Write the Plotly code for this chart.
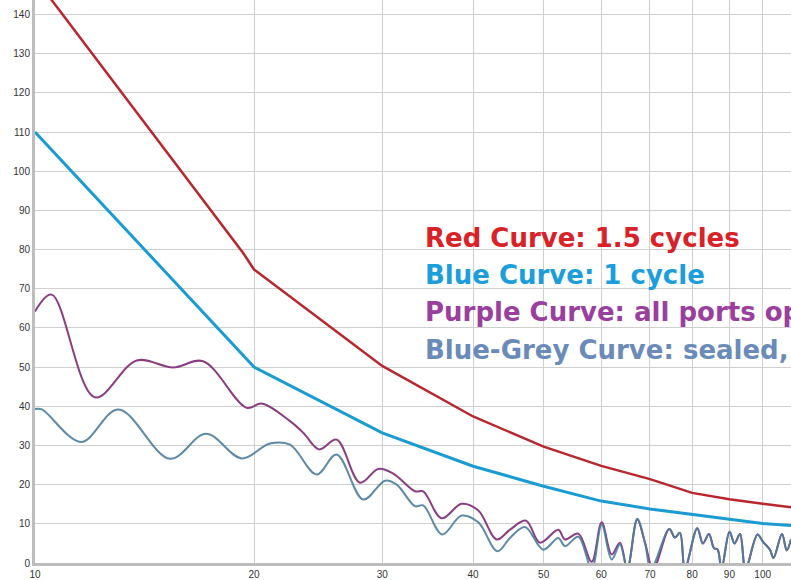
import plotly.graph_objects as go

# ---- data ----
red_f = [10, 19.31, 20, 30, 40, 50, 60, 70, 80, 90, 100, 109.4]
red_v = [149.3, 79.2, 74.9, 50.3, 37.4, 29.7, 24.8, 21.4, 17.9, 16.3, 15.1, 14.2]

blue_f = [10, 20, 30, 40, 50, 60, 70, 80, 90, 100, 109.4]
blue_v = [110, 50, 33.2, 24.7, 19.6, 15.8, 13.8, 12.4, 11.3, 10.1, 9.6]

purple_f = [10.00, 10.54, 12.09, 13.80, 15.48, 17.02, 19.54, 20.49, 22.41, 23.38,
            24.57, 25.97, 27.97, 29.63, 31.07, 33.28, 34.16, 36.21, 38.57, 40.66,
            43.10, 44.95, 47.28, 49.42, 52.37, 53.49, 55.79, 58.21, 60.08, 62.02,
            63.66, 65.15, 67.24, 68.90, 70.73, 74.40, 75.75, 76.96, 78.18, 81.29,
            82.77, 84.36, 85.71, 86.72, 87.77, 90.03, 91.47, 93.07, 94.71, 98.37,
            100.09, 102.33, 103.48, 106.30, 107.89, 109.36]
purple_v = [64.2, 68.5, 42.3, 51.7, 49.9, 51.5, 39.6, 40.7, 36.2, 33.2,
            29.0, 31.5, 20.5, 24.0, 22.8, 18.3, 18.3, 11.4, 15.1, 13.4,
            6.0, 8.5, 10.8, 5.2, 8.5, 6.0, 7.5, 0.3, 10.4, 2.2,
            5.2, -1.5, 11.1, 5.2, -1.5, 8.7, 6.5, 7.7, -1.5, 8.9,
            5.0, 7.4, 3.8, 3.4, -1.5, 8.0, 5.0, 7.4, -1.5, 7.3,
            5.4, 3.4, 1.3, 7.4, 3.2, 6.0]

grey_f = [10.00, 10.22, 11.57, 13.02, 15.33, 17.18, 19.23, 21.03, 22.41, 24.38,
          25.97, 28.26, 30.27, 31.41, 33.28, 34.16, 36.28, 38.57, 40.66, 43.19,
          44.95, 47.13, 49.94, 52.37, 53.49, 55.79, 58.21, 60.08, 62.02, 63.66,
          65.15, 67.24, 68.90, 70.23, 74.40, 75.75, 76.96, 78.18, 81.29, 82.77,
          84.36, 85.71, 86.72, 87.77, 90.03, 91.47, 93.07, 94.71, 98.37, 100.09,
          102.33, 103.48, 106.30, 107.89, 109.36]
grey_v = [39.3, 39.2, 30.9, 39.2, 26.6, 33.0, 26.7, 30.5, 30.2, 22.6,
          27.7, 16.2, 21.0, 20.0, 14.5, 14.7, 7.3, 12.1, 10.4, 3.0,
          6.4, 9.2, 3.4, 6.4, 4.3, 6.7, -1.5, 9.8, 0.9, 4.7,
          -1.5, 11.3, 5.2, -1.5, 8.7, 6.5, 7.7, -1.5, 8.9, 5.0,
          7.4, 3.8, 3.4, -1.5, 8.0, 5.0, 7.4, -1.5, 7.3, 5.4,
          3.4, 1.3, 7.4, 3.2, 6.0]

x_ticks = [10, 20, 30, 40, 50, 60, 70, 80, 90, 100]
y_ticks = list(range(0, 150, 10))

labels = ["Red Curve: 1.5 cycles", "Blue Curve: 1 cycle",
          "Purple Curve: all ports open", "Blue-Grey Curve: sealed,"]
label_colors = ["#d92128", "#1c9edb", "#9a3f9e", "#6a8bb9"]

fig = go.Figure()
fig.add_trace(go.Scatter(x=purple_f, y=purple_v, mode="lines",
                         line=dict(color="#8a3d80", width=2, shape="spline", smoothing=1.0)))
fig.add_trace(go.Scatter(x=grey_f, y=grey_v, mode="lines",
                         line=dict(color="#4c7f9e", width=2, shape="spline", smoothing=1.0),
                         opacity=0.9))
fig.add_trace(go.Scatter(x=blue_f, y=blue_v, mode="lines",
                         line=dict(color="#1a9bd2", width=3)))
fig.add_trace(go.Scatter(x=red_f, y=red_v, mode="lines",
                         line=dict(color="#b8262e", width=2.5)))

ys = [0.578, 0.512, 0.445, 0.378]
for txt, col, yy in zip(labels, label_colors, ys):
    fig.add_annotation(x=0.513, y=yy, xref="paper", yref="paper", text=txt,
                       showarrow=False, xanchor="left", yanchor="middle",
                       font=dict(family="DejaVu Sans, sans-serif",
                                 size=26, color=col, weight="bold"))

fig.update_layout(
    width=791, height=580,
    margin=dict(l=35, r=0, t=0, b=17),
    paper_bgcolor="white", plot_bgcolor="white",
    showlegend=False,
    font=dict(family="Liberation Sans, Arial, sans-serif", size=10, color="#333333"),
)
fig.update_xaxes(type="log", range=[1, 2.0389], tickvals=x_ticks,
                 ticktext=[str(v) for v in x_ticks],
                 showgrid=True, gridcolor="#cfcfcf", gridwidth=1,
                 showline=True, linecolor="#bdbdbd", linewidth=3,
                 zeroline=False, ticks="", tickfont=dict(size=10))
fig.update_yaxes(range=[0, 143.7], tickvals=y_ticks,
                 showgrid=True, gridcolor="#cfcfcf", gridwidth=1,
                 showline=True, linecolor="#bdbdbd", linewidth=3,
                 zeroline=False, ticks="", tickfont=dict(size=10))

fig.write_html("out.html", config={"displayModeBar": False},
               post_script="document.body.style.margin='0px';document.body.style.overflow='hidden';")
